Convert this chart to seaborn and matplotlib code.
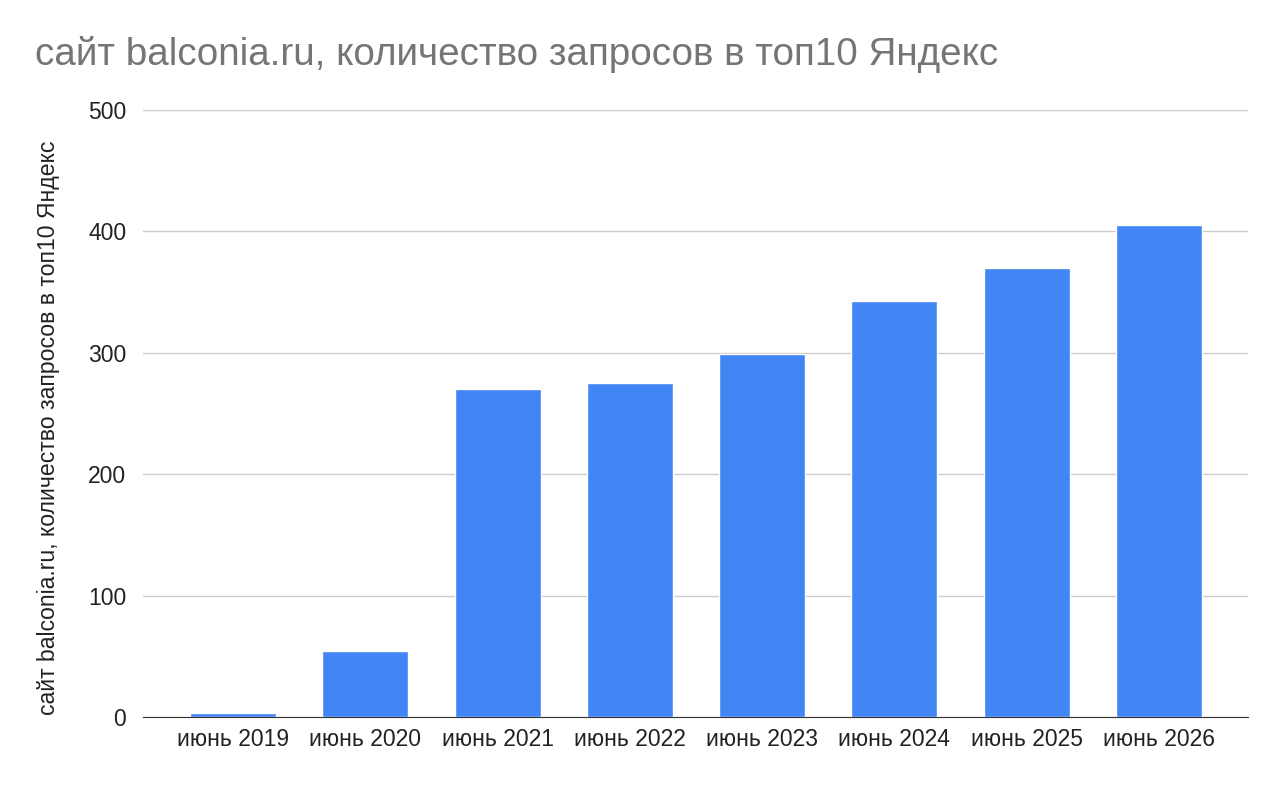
import matplotlib
matplotlib.use("Agg")
import matplotlib.pyplot as plt
import seaborn as sns
import pandas as pd

categories = ["июнь 2019", "июнь 2020", "июнь 2021", "июнь 2022", "июнь 2023", "июнь 2024", "июнь 2025", "июнь 2026"]
values = [3, 54, 270, 275, 299, 343, 370, 405]
title = "сайт balconia.ru, количество запросов в топ10 Яндекс"

sns.set_style("white")
plt.rcParams['font.family'] = ['Liberation Sans', 'DejaVu Sans']

df = pd.DataFrame({"cat": categories, "val": values})
fig = plt.figure(figsize=(12.8, 7.86), dpi=100)
ax = fig.add_axes([0.1117, 0.0878, 0.8633, 0.7722])
sns.barplot(data=df, x="cat", y="val", color="#4285f4", saturation=1, width=0.65, ax=ax)
ax.set_xlim(-0.68, 7.673)
ax.set_ylim(0, 500)
ax.set_yticks([0, 100, 200, 300, 400, 500])
ax.grid(axis="y", color="#cccccc", linewidth=1)
ax.set_axisbelow(True)
for s in ["top", "right", "left"]:
    ax.spines[s].set_visible(False)
ax.spines["bottom"].set_color("#333333")
ax.tick_params(axis="both", length=0, labelsize=16.5, colors="#222222")
ax.tick_params(axis="y", pad=12)
ax.tick_params(axis="x", pad=8)
ax.set_xlabel("")
ax.set_ylabel(title, fontsize=16.6, color="#222222")
ax.yaxis.set_label_coords(-0.075, 0.477)
fig.text(0.027, 0.917, title, fontsize=27.8, color="#757575")
fig.savefig("out.png", dpi=100)
